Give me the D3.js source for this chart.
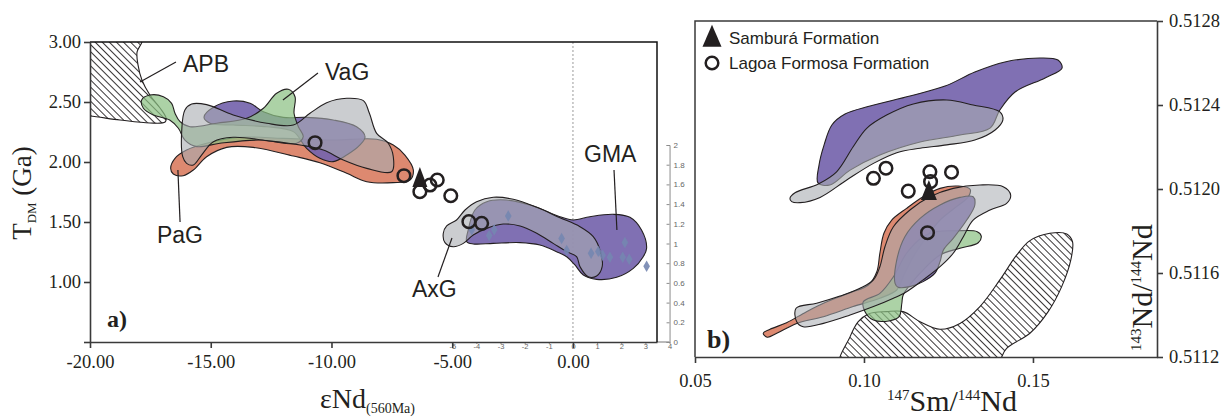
<!DOCTYPE html>
<html>
<head>
<meta charset="utf-8">
<script src="https://cdn.jsdelivr.net/npm/d3@7/dist/d3.min.js"></script>
<style>
  html, body { margin: 0; padding: 0; background: #fff; }
  svg { display: block; }
</style>
</head>
<body>
<svg id="fig" width="1224" height="419"></svg>
<script>
// ---------- Panel a: T_DM (Ga) versus εNd(560 Ma) ----------
const endTicks = [-20, -15, -10, -5, 0];
const tdmTicks = [0.5, 1.0, 1.5, 2.0, 2.5, 3.0];
// secondary (reference dataset) axes drawn faintly inside panel a
const refTicksX = [-5, -4, -3, -2, -1, 0, 1, 2, 3, 4];
const refTicksY = [0, 0.2, 0.4, 0.6, 0.8, 1, 1.2, 1.4, 1.6, 1.8, 2];

// fields as [εNd, TDM] outlines
const apbField = [[-20.6,3.1],[-17.8,3.1],[-17.85,3.0],[-18.05,2.917],[-18.01,2.808],[-17.85,2.683],[-17.52,2.558],[-17.10,2.45],[-16.85,2.367],[-16.89,2.333],[-17.52,2.325],[-18.76,2.35],[-20.0,2.383],[-20.6,2.39]];
const pagField = [[-16.66,1.948],[-16.48,2.031],[-16.00,2.10],[-15.17,2.156],[-13.79,2.206],[-12.00,2.197],[-9.93,2.183],[-8.13,2.189],[-7.44,2.142],[-6.96,2.058],[-6.61,1.933],[-6.75,1.85],[-7.44,1.828],[-8.54,1.836],[-9.37,1.906],[-10.48,1.994],[-11.58,2.05],[-13.24,2.122],[-14.34,2.122],[-15.17,2.044],[-15.72,1.933],[-16.14,1.886],[-16.55,1.90]];
const purpleFieldA = [[-15.28,2.372],[-14.89,2.456],[-14.07,2.508],[-13.37,2.489],[-12.82,2.419],[-12.00,2.372],[-11.03,2.372],[-9.93,2.35],[-8.96,2.294],[-8.61,2.211],[-8.82,2.142],[-9.37,2.058],[-9.93,2.003],[-10.48,2.031],[-11.03,2.114],[-11.58,2.253],[-12.68,2.294],[-14.07,2.308],[-15.03,2.323]];
const vagField = [[-17.86,2.517],[-17.52,2.558],[-16.96,2.544],[-16.62,2.489],[-16.48,2.406],[-16.27,2.336],[-15.86,2.294],[-14.75,2.323],[-13.51,2.364],[-12.82,2.448],[-12.27,2.573],[-11.79,2.606],[-11.51,2.544],[-11.55,2.406],[-11.37,2.294],[-11.17,2.211],[-11.44,2.156],[-12.96,2.183],[-14.62,2.156],[-15.58,2.128],[-16.07,2.183],[-16.34,2.281],[-16.70,2.35],[-17.38,2.392],[-17.79,2.448]];
const greyFieldA = [[-16.16,2.044],[-16.20,2.267],[-16.07,2.433],[-15.79,2.483],[-15.17,2.478],[-14.07,2.392],[-12.68,2.323],[-11.58,2.308],[-10.89,2.406],[-10.20,2.494],[-9.37,2.531],[-8.68,2.511],[-8.43,2.406],[-8.13,2.239],[-7.65,2.156],[-7.44,2.044],[-7.51,1.919],[-8.54,1.947],[-9.51,2.017],[-10.34,2.10],[-11.30,2.142],[-12.68,2.178],[-14.07,2.206],[-14.89,2.169],[-15.38,2.058],[-15.72,1.975],[-16.00,1.989]];
const gmaField = [[-4.40,1.336],[-4.34,1.433],[-4.06,1.60],[-3.57,1.669],[-2.75,1.683],[-1.64,1.633],[-0.54,1.544],[0.01,1.517],[0.70,1.544],[1.67,1.564],[2.36,1.539],[2.84,1.433],[3.05,1.281],[2.91,1.211],[2.50,1.114],[1.81,1.039],[0.98,1.022],[0.43,1.058],[0.08,1.142],[-0.26,1.211],[-0.68,1.253],[-1.37,1.308],[-2.19,1.328],[-3.30,1.322],[-4.13,1.317]];
const axgField = [[-5.37,1.406],[-5.23,1.467],[-4.82,1.517],[-4.47,1.60],[-3.99,1.669],[-3.30,1.706],[-2.47,1.689],[-1.50,1.622],[-0.54,1.536],[0.29,1.461],[0.84,1.378],[1.14,1.253],[1.21,1.128],[0.98,1.05],[0.63,1.044],[0.29,1.128],[0.15,1.211],[-0.26,1.253],[-0.82,1.322],[-1.50,1.406],[-2.19,1.467],[-2.89,1.483],[-3.57,1.447],[-4.13,1.392],[-4.54,1.322],[-4.96,1.294],[-5.30,1.328]];

// reference samples on the secondary axes [εNd, value]
const refSamples = [[-2.68,1.28],[-4.19,1.14],[-3.47,1.08],[-3.26,1.14],[-0.47,1.05],[-0.26,0.93],[0.75,0.90],[1.05,0.92],[1.23,0.88],[1.53,0.86],[2.06,0.86],[2.33,0.84],[2.15,1.01],[3.05,0.77]];

// samples [εNd, TDM]
const samburaA = [[-6.34,1.858]];
const lagoaA = [[-10.68,2.161],[-7.0,1.886],[-6.34,1.753],[-5.92,1.808],[-5.62,1.85],[-5.06,1.719],[-4.31,1.503],[-3.78,1.489]];

// field names with leader lines: text anchor, line start, line end
const fieldLabels = [
  { name: 'APB', at: [-16.15, 2.75], from: [-16.44, 2.833], to: [-17.93, 2.667] },
  { name: 'VaG', at: [-10.27, 2.683], from: [-10.56, 2.742], to: [-12.01, 2.517] },
  { name: 'PaG', at: [-17.23, 1.325], from: [-16.36, 1.933], to: [-16.27, 1.50] },
  { name: 'AxG', at: [-6.67, 0.875], from: [-5.59, 1.042], to: [-5.01, 1.367] },
  { name: 'GMA', at: [0.46, 2.0], from: [1.70, 1.933], to: [1.82, 1.433] }
];

// ---------- Panel b: 143Nd/144Nd versus 147Sm/144Nd ----------
const smTicks = [0.05, 0.10, 0.15];
const ndTicks = [0.5112, 0.5116, 0.5120, 0.5124, 0.5128];

const purpleUpperB = [[0.0864,0.512029],[0.0867,0.512114],[0.0882,0.51221],[0.0905,0.512305],[0.0944,0.512357],[0.1018,0.512395],[0.1136,0.512443],[0.1240,0.51249],[0.1328,0.512557],[0.1417,0.512605],[0.1521,0.512624],[0.1574,0.512614],[0.1586,0.512576],[0.1536,0.512529],[0.1447,0.512462],[0.1402,0.512376],[0.1373,0.51229],[0.1284,0.512257],[0.1166,0.512224],[0.1047,0.512162],[0.0959,0.51209],[0.0899,0.512019]];
const greyUpperB = [[0.0781,0.511956],[0.0796,0.511982],[0.0865,0.512024],[0.0919,0.512082],[0.0968,0.512201],[0.1008,0.512289],[0.1067,0.512352],[0.1146,0.512405],[0.1245,0.512424],[0.1323,0.5124],[0.1402,0.512367],[0.1411,0.512329],[0.1388,0.512281],[0.1328,0.512233],[0.1245,0.51221],[0.1166,0.512194],[0.1097,0.512173],[0.1028,0.512122],[0.0949,0.512043],[0.0870,0.51196],[0.0811,0.511935],[0.0786,0.51194]];
const redLowerB = [[0.0702,0.511313],[0.0722,0.511332],[0.0771,0.511363],[0.0830,0.511416],[0.0890,0.511463],[0.0959,0.511506],[0.1013,0.511543],[0.1038,0.511606],[0.1047,0.511694],[0.1059,0.511789],[0.1082,0.511852],[0.1126,0.511908],[0.1175,0.511963],[0.1225,0.512003],[0.1279,0.512014],[0.1314,0.511999],[0.1309,0.511963],[0.1274,0.511916],[0.1225,0.511852],[0.1186,0.511773],[0.1146,0.511678],[0.1116,0.511582],[0.1097,0.511519],[0.1047,0.51148],[0.0968,0.51144],[0.0880,0.511392],[0.0801,0.51136],[0.0742,0.511313],[0.0714,0.511294]];
const greenLowerB = [[0.1003,0.511416],[0.1028,0.511376],[0.1077,0.511373],[0.1104,0.511392],[0.1112,0.511456],[0.1116,0.511495],[0.1166,0.511599],[0.1225,0.511686],[0.1284,0.511718],[0.1338,0.511744],[0.1347,0.511776],[0.1335,0.511797],[0.1274,0.511801],[0.1215,0.511797],[0.1175,0.511773],[0.1126,0.511694],[0.1087,0.511582],[0.1047,0.511503],[0.0998,0.511463]];
const purpleLowerB = [[0.1092,0.511551],[0.1097,0.511662],[0.1121,0.511773],[0.1166,0.51186],[0.1225,0.511924],[0.1284,0.51196],[0.1323,0.511963],[0.1328,0.511924],[0.1304,0.511852],[0.1264,0.511765],[0.1235,0.51171],[0.1225,0.511654],[0.1210,0.511599],[0.1175,0.511559],[0.1136,0.511535],[0.1101,0.511532]];
const greyLowerB = [[0.0799,0.511432],[0.0860,0.511456],[0.0929,0.51149],[0.0988,0.511527],[0.1028,0.511567],[0.1047,0.51163],[0.1062,0.511725],[0.1087,0.51182],[0.1136,0.5119],[0.1195,0.511963],[0.1264,0.512003],[0.1343,0.512019],[0.1412,0.512011],[0.1434,0.511971],[0.1422,0.511932],[0.1373,0.5119],[0.1323,0.511852],[0.1294,0.511773],[0.1264,0.511694],[0.1225,0.51163],[0.1175,0.511567],[0.1126,0.511511],[0.1087,0.51148],[0.1028,0.51144],[0.0959,0.5114],[0.0880,0.51136],[0.0820,0.511344],[0.0801,0.511368]];
const hatchLowerB = [[0.0929,0.51115],[0.0959,0.511297],[0.0983,0.511368],[0.1013,0.511405],[0.1067,0.511416],[0.1116,0.511416],[0.1166,0.511368],[0.1225,0.511332],[0.1284,0.51136],[0.1343,0.51144],[0.1402,0.511567],[0.1452,0.511686],[0.1491,0.511754],[0.1550,0.511789],[0.1600,0.511786],[0.1617,0.511749],[0.1612,0.511662],[0.1585,0.511535],[0.1545,0.511416],[0.1491,0.511313],[0.1422,0.511241],[0.1383,0.51115]];

// samples [147Sm/144Nd, 143Nd/144Nd]
const samburaB = [[0.1192,0.511986]];
const lagoaB = [[0.1028,0.512051],[0.1065,0.512099],[0.1131,0.51199],[0.1195,0.512082],[0.1197,0.512035],[0.1259,0.51208],[0.1188,0.511792]];

// ---------- drawing ----------
const SERIF = "'Liberation Serif', 'Times New Roman', serif";
const SANS = "'Liberation Sans', Arial, sans-serif";
const INK = '#231f20';
const AXIS = '#3a3a3a';
const COL = { red: '#d8795c', purple: '#7564ad', green: '#8cc084', grey: '#a8abb0' };

const xA = d3.scaleLinear().domain([-20, 3.48]).range([90, 657]);
const yA = d3.scaleLinear().domain([0.5, 3.0]).range([342, 42]);
const yRef = d3.scaleLinear().domain([0, 2]).range([342, 145]);
const xB = d3.scaleLinear().domain([0.05, 0.1867]).range([695, 1157]);
const yB = d3.scaleLinear().domain([0.5112, 0.5128]).range([357, 21]);

const svg = d3.select('#fig');
const defs = svg.append('defs');

function clipFor(id, xs, ys) {
  const [x0, x1] = xs.range(), [y0, y1] = ys.range();
  defs.append('clipPath').attr('id', id).append('rect')
    .attr('x', Math.min(x0, x1)).attr('y', Math.min(y0, y1))
    .attr('width', Math.abs(x1 - x0)).attr('height', Math.abs(y1 - y0));
}
clipFor('clipA', xA, yA);
clipFor('clipB', xB, yB);

const pat = defs.append('pattern').attr('id', 'hatch')
  .attr('patternUnits', 'userSpaceOnUse').attr('width', 5).attr('height', 5)
  .attr('patternTransform', 'rotate(-45)');
pat.append('rect').attr('width', 5).attr('height', 5).attr('fill', '#fff');
pat.append('line').attr('x1', 2.5).attr('y1', -1).attr('x2', 2.5).attr('y2', 6)
  .attr('stroke', INK).attr('stroke-width', 0.9);

function outline(xs, ys) {
  return d3.line().x(d => xs(d[0])).y(d => ys(d[1]))
    .curve(d3.curveCatmullRomClosed.alpha(0.5));
}
function field(g, xs, ys, pts, fill, op, stroke) {
  g.append('path').attr('d', outline(xs, ys)(pts))
    .attr('fill', fill).attr('fill-opacity', op)
    .attr('stroke', stroke || INK).attr('stroke-width', 1.1)
    .attr('stroke-linejoin', 'round');
}
function styleAxis(sel, size) {
  sel.attr('font-family', SERIF).attr('font-size', size);
  sel.select('.domain').attr('stroke', AXIS).attr('stroke-width', 1.6);
  sel.selectAll('.tick line').attr('stroke', AXIS).attr('stroke-width', 1.6);
  sel.selectAll('.tick text').attr('fill', INK);
}
function triPath(w, h) {
  return `M0,${-h * 0.6}L${w / 2},${h * 0.4}L${-w / 2},${h * 0.4}Z`;
}

// ===== Panel a =====
const pa = svg.append('g');

// faint secondary axes
const refAxisY = pa.append('g').attr('transform', `translate(${xA(4)},0)`)
  .call(d3.axisRight(yRef).tickValues(refTicksY).tickSize(-3).tickPadding(4).tickFormat(d => String(d)));
refAxisY.attr('font-family', SANS).attr('font-size', 8);
refAxisY.select('.domain').attr('stroke', '#8c8c8c').attr('stroke-width', 1);
refAxisY.selectAll('.tick line').attr('stroke', '#8c8c8c');
refAxisY.selectAll('.tick text').attr('fill', '#666');

const refAxisX = pa.append('g').attr('transform', `translate(0,${yA(0.5)})`)
  .call(d3.axisBottom(xA).tickValues(refTicksX).tickSize(2).tickPadding(0).tickFormat(d => String(d)));
refAxisX.attr('font-family', SANS).attr('font-size', 7.5);
refAxisX.select('.domain').remove();
refAxisX.selectAll('.tick line').attr('stroke', '#8c8c8c');
refAxisX.selectAll('.tick text').attr('fill', '#666');
pa.append('line').attr('x1', xA.range()[1]).attr('x2', xA(4))
  .attr('y1', yA(0.5)).attr('y2', yA(0.5)).attr('stroke', '#8c8c8c').attr('stroke-width', 1.2);

// zero line
pa.append('line').attr('x1', xA(0)).attr('x2', xA(0))
  .attr('y1', yA(3.0)).attr('y2', yA(0.5))
  .attr('stroke', '#9a9a9a').attr('stroke-width', 1).attr('stroke-dasharray', '2,2');

const fa = pa.append('g').attr('clip-path', 'url(#clipA)');
field(fa, xA, yA, apbField, 'url(#hatch)', 1);
field(fa, xA, yA, pagField, COL.red, 0.88);
field(fa, xA, yA, purpleFieldA, COL.purple, 0.92);
field(fa, xA, yA, vagField, COL.green, 0.72);
field(fa, xA, yA, greyFieldA, COL.grey, 0.6);
field(fa, xA, yA, gmaField, COL.purple, 0.92);
field(fa, xA, yA, axgField, COL.grey, 0.6);

// reference samples
fa.selectAll('path.ref').data(refSamples).join('path').attr('class', 'ref')
  .attr('d', d3.symbol(d3.symbolDiamond, 38)())
  .attr('transform', d => `translate(${xA(d[0])},${yRef(d[1])})`)
  .attr('fill', '#7486b0').attr('fill-opacity', 0.9);

// field labels
fieldLabels.forEach(l => {
  pa.append('line')
    .attr('x1', xA(l.from[0])).attr('y1', yA(l.from[1]))
    .attr('x2', xA(l.to[0])).attr('y2', yA(l.to[1]))
    .attr('stroke', INK).attr('stroke-width', 1.2);
  pa.append('text').attr('x', xA(l.at[0])).attr('y', yA(l.at[1]))
    .attr('font-family', SANS).attr('font-size', 23).attr('fill', INK).text(l.name);
});

// axes
pa.append('g').attr('transform', `translate(${xA.range()[0]},0)`)
  .call(d3.axisLeft(yA).tickValues(tdmTicks).tickSize(6).tickSizeOuter(0).tickPadding(3)
    .tickFormat(d => d === 0.5 ? '' : d.toFixed(2)))
  .call(styleAxis, 18.5);
pa.append('g').attr('transform', `translate(0,${yA.range()[0]})`)
  .call(d3.axisBottom(xA).tickValues(endTicks).tickSize(6).tickSizeOuter(0).tickPadding(7)
    .tickFormat(d => d.toFixed(2)))
  .call(styleAxis, 18.5);
// frame
pa.append('path')
  .attr('d', `M${xA.range()[0]},${yA.range()[1]}H${xA.range()[1]}V${yA.range()[0]}`)
  .attr('fill', 'none').attr('stroke', '#111').attr('stroke-width', 1.5);

// samples
pa.selectAll('circle.lagoa').data(lagoaA).join('circle').attr('class', 'lagoa')
  .attr('cx', d => xA(d[0])).attr('cy', d => yA(d[1])).attr('r', 6.3)
  .attr('fill', 'none').attr('stroke', INK).attr('stroke-width', 2.5);
pa.selectAll('path.sambura').data(samburaA).join('path').attr('class', 'sambura')
  .attr('d', triPath(15, 20))
  .attr('transform', d => `translate(${xA(d[0])},${yA(d[1])})`)
  .attr('fill', INK);

// axis titles
const tY = pa.append('text').attr('transform', 'translate(31,193) rotate(-90)')
  .attr('text-anchor', 'middle').attr('font-family', SERIF).attr('font-size', 27).attr('fill', INK);
tY.append('tspan').text('T');
tY.append('tspan').attr('font-size', 13).attr('dy', 5).text('DM');
tY.append('tspan').attr('dy', -5).text('\u00a0(Ga)');

const tX = pa.append('text').attr('x', 320).attr('y', 408)
  .attr('font-family', SERIF).attr('font-size', 28).attr('fill', INK);
tX.append('tspan').text('\u03b5Nd');
tX.append('tspan').attr('font-size', 14).attr('dy', 5).text('(560Ma)');

pa.append('text').attr('x', 107).attr('y', 327)
  .attr('font-family', SERIF).attr('font-weight', 'bold').attr('font-size', 24).attr('fill', INK).text('a)');

// ===== Panel b =====
const pb = svg.append('g');
const fb = pb.append('g').attr('clip-path', 'url(#clipB)');
field(fb, xB, yB, hatchLowerB, 'url(#hatch)', 1);
field(fb, xB, yB, purpleUpperB, COL.purple, 0.92);
field(fb, xB, yB, greyUpperB, COL.grey, 0.6);
field(fb, xB, yB, redLowerB, COL.red, 0.88);
field(fb, xB, yB, greenLowerB, COL.green, 0.72);
field(fb, xB, yB, purpleLowerB, COL.purple, 0.92);
field(fb, xB, yB, greyLowerB, COL.grey, 0.55);

// axes and frame
pb.append('g').attr('transform', `translate(0,${yB.range()[0]})`)
  .call(d3.axisBottom(xB).tickValues(smTicks).tickSize(6).tickSizeOuter(0).tickPadding(11)
    .tickFormat(d => d.toFixed(2)))
  .call(styleAxis, 18.5);
pb.append('g').attr('transform', `translate(${xB.range()[1]},0)`)
  .call(d3.axisRight(yB).tickValues(ndTicks).tickSize(6).tickSizeOuter(0).tickPadding(6)
    .tickFormat(d => d.toFixed(4)))
  .call(styleAxis, 18.5);
pb.append('path')
  .attr('d', `M${xB.range()[0]},${yB.range()[0]}V${yB.range()[1]}H${xB.range()[1]}`)
  .attr('fill', 'none').attr('stroke', AXIS).attr('stroke-width', 1.5);

// samples
pb.selectAll('circle.lagoa').data(lagoaB).join('circle').attr('class', 'lagoa')
  .attr('cx', d => xB(d[0])).attr('cy', d => yB(d[1])).attr('r', 6.3)
  .attr('fill', 'none').attr('stroke', INK).attr('stroke-width', 2.5);
pb.selectAll('path.sambura').data(samburaB).join('path').attr('class', 'sambura')
  .attr('d', triPath(16, 20))
  .attr('transform', d => `translate(${xB(d[0])},${yB(d[1])})`)
  .attr('fill', INK);

// legend
const lg = pb.append('g');
lg.append('path').attr('d', triPath(19, 22)).attr('transform', 'translate(712,38)').attr('fill', INK);
lg.append('circle').attr('cx', 712).attr('cy', 63).attr('r', 6.3)
  .attr('fill', 'none').attr('stroke', INK).attr('stroke-width', 2.5);
lg.append('text').attr('x', 729).attr('y', 44).attr('font-family', SANS).attr('font-size', 17)
  .attr('fill', INK).text('Sambur\u00e1 Formation');
lg.append('text').attr('x', 729).attr('y', 69).attr('font-family', SANS).attr('font-size', 17)
  .attr('fill', INK).text('Lagoa Formosa Formation');

// axis titles
const bX = pb.append('text').attr('x', 887).attr('y', 411)
  .attr('font-family', SERIF).attr('font-size', 30).attr('fill', INK);
bX.append('tspan').attr('font-size', 15).attr('dy', -11).text('147');
bX.append('tspan').attr('dy', 11).text('Sm/');
bX.append('tspan').attr('font-size', 15).attr('dy', -11).text('144');
bX.append('tspan').attr('dy', 11).text('Nd');

const bY = pb.append('text').attr('transform', 'translate(1152,351) rotate(-90)')
  .attr('font-family', SERIF).attr('font-size', 30).attr('fill', INK);
bY.append('tspan').attr('font-size', 15).attr('dy', -11).text('143');
bY.append('tspan').attr('dy', 11).text('Nd/');
bY.append('tspan').attr('font-size', 15).attr('dy', -11).text('144');
bY.append('tspan').attr('dy', 11).text('Nd');

pb.append('text').attr('x', 707).attr('y', 348)
  .attr('font-family', SERIF).attr('font-weight', 'bold').attr('font-size', 26).attr('fill', INK).text('b)');
</script>
</body>
</html>
